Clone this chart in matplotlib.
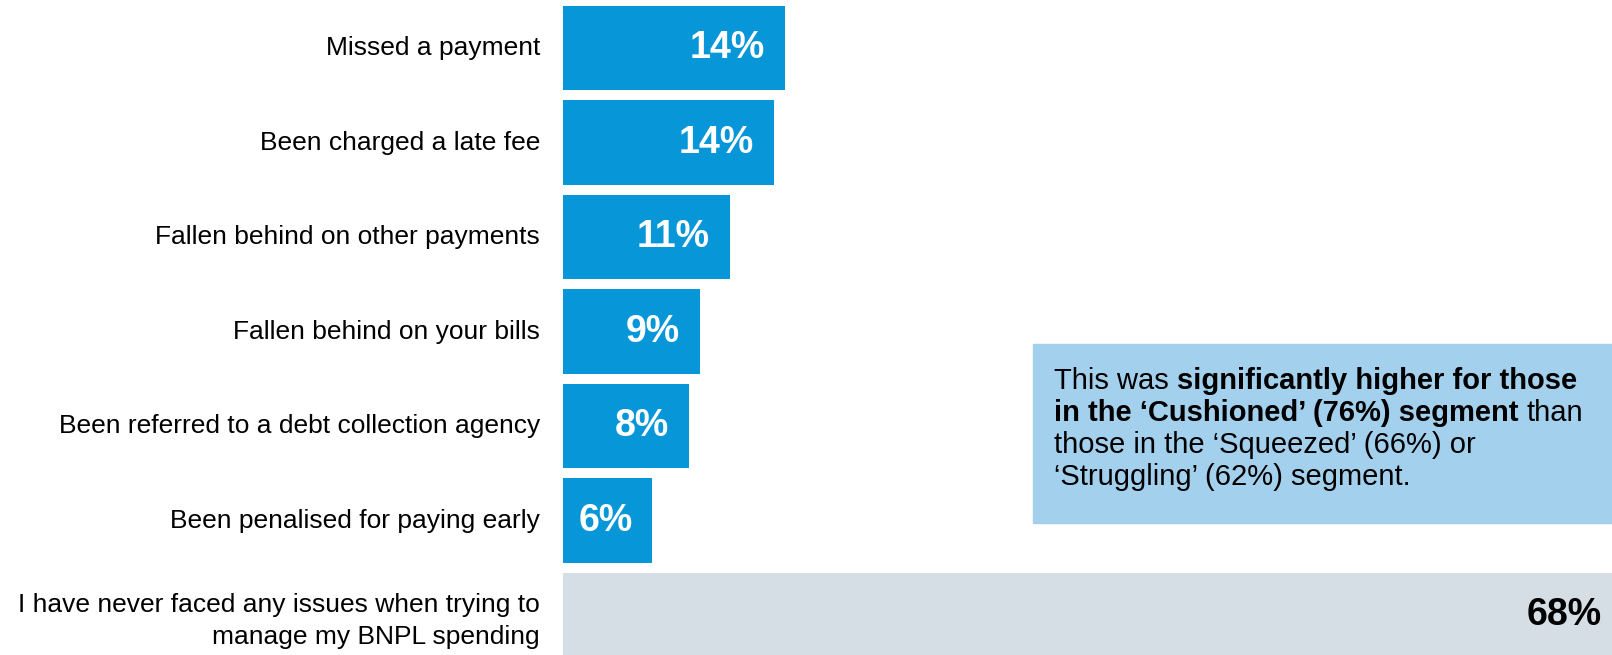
import matplotlib
matplotlib.use("Agg")
import matplotlib.pyplot as plt
from matplotlib.patches import Rectangle

plt.rcParams['font.family'] = ['Liberation Sans', 'DejaVu Sans']

# data
labels = [
    "Missed a payment",
    "Been charged a late fee",
    "Fallen behind on other payments",
    "Fallen behind on your bills",
    "Been referred to a debt collection agency",
    "Been penalised for paying early",
    "I have never faced any issues when trying to\nmanage my BNPL spending",
]
values = [14.4, 13.7, 10.8, 8.9, 8.2, 5.8, 68]
value_text = ["14%", "14%", "11%", "9%", "8%", "6%", "68%"]

BLUE = "#0796d8"
GREY = "#d6dee5"
BOX = "#a3d0ec"

W, H = 1612, 655
fig = plt.figure(figsize=(W / 100, H / 100), dpi=100)
ax = fig.add_axes([563 / W, 0, 1 - 563 / W, 1])

colors = [BLUE] * 6 + [GREY]
ypos = list(range(len(values)))
ax.barh(ypos, values, height=0.89, color=colors)
ax.set_xlim(0, values[-1])
ax.set_ylim(6.423, -0.508)
ax.axis('off')

for y, v, t, c in zip(ypos, values, value_text, colors):
    if c == GREY:
        ax.annotate(t, (v, y), xytext=(-10, 0), textcoords='offset pixels',
                    ha='right', va='center', fontsize=27, fontweight='bold', color='black')
    else:
        ax.annotate(t, (v, y), xytext=(-20, 0), textcoords='offset pixels',
                    ha='right', va='center', fontsize=27, fontweight='bold', color='white')

for y, lab in zip(ypos, labels):
    dy = -6 if "\n" in lab else 0
    ax.annotate(lab, (0, y), xytext=(-23, dy), textcoords='offset pixels',
                ha='right', va='center', fontsize=19, color='black', linespacing=1.45,
                annotation_clip=False)

# annotation box
fig.patches.append(Rectangle((1033 / W, 1 - 523 / H), (W - 1033) / W, 179 / H,
                             transform=fig.transFigure, color=BOX, zorder=0.5))

box_lines = [
    [("This was ", 'normal'), ("significantly higher for those", 'bold')],
    [("in the \u2018Cushioned\u2019 (76%) segment", 'bold'), (" than", 'normal')],
    [("those in the \u2018Squeezed\u2019 (66%) or", 'normal')],
    [("\u2018Struggling\u2019 (62%) segment.", 'normal')],
]
renderer = fig.canvas.get_renderer()
FS = 21
x0 = 1054
base = 389
for i, line in enumerate(box_lines):
    x = x0
    yb = base + i * 31.9
    for txt, wt in line:
        lead = txt.startswith(" ")
        trail = txt.endswith(" ")
        s = txt.strip()
        probe = fig.text(0, 0, "a a", fontsize=FS, fontweight=wt)
        probe2 = fig.text(0, 0, "aa", fontsize=FS, fontweight=wt)
        sp = probe.get_window_extent(renderer).width - probe2.get_window_extent(renderer).width
        probe.remove()
        probe2.remove()
        if lead:
            x += sp
        t = fig.text(x / W, 1 - yb / H, s, fontsize=FS, fontweight=wt,
                     ha='left', va='baseline', color='black')
        x += t.get_window_extent(renderer).width
        if trail:
            x += sp

fig.savefig("out.png", dpi=100)
